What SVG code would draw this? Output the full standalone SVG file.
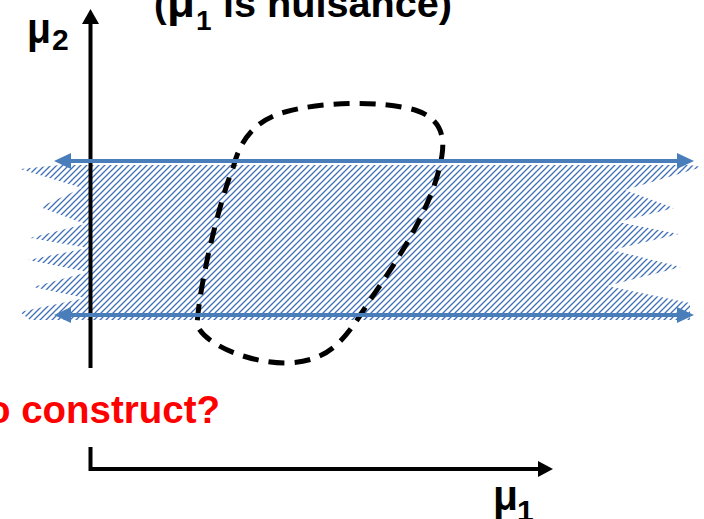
<svg xmlns="http://www.w3.org/2000/svg" width="704" height="519" viewBox="0 0 704 519">
  <style>
    .lbl { font-family: "Liberation Sans", Arial, sans-serif; font-weight: bold; fill: #000; }
    .red { font-family: "Liberation Sans", Arial, sans-serif; font-weight: bold; fill: #ff0000; }
    .axis { stroke: #000; stroke-width: 4; fill: none; }
    .blue { stroke: #4a7ebb; stroke-width: 4; fill: none; }
    .bhead { fill: #4a7ebb; }
    .dash { stroke: #000; stroke-width: 5; fill: none; stroke-dasharray: 16 10; }
  </style>
  <defs>
    <pattern id="hatch" patternUnits="userSpaceOnUse" width="6" height="6">
      <path d="M-1,1 l2,-2 M0,6 l6,-6 M5,7 l2,-2" stroke="#3f70b8" stroke-width="1.3"/>
    </pattern>
  </defs>

  <g id="band">
    <polygon fill="url(#hatch)" points="60,165 690,165 702,167 625,190 674,208 618,222 679,234 612,250 681,267 607,286 690,303 690,320 30,320 20,312 85,298 33,287 88,272 28,260 88,248 30,238 85,224 40,207 82,188 20,169"/>
  </g>

  <g id="axes">
    <line class="axis" x1="90.5" y1="22" x2="90.5" y2="368"/>
    <polygon points="90.5,9 82,24 99,24" fill="#000"/>
    <polyline class="axis" points="90.5,447 90.5,469 540,469"/>
    <polygon points="553,469 538,461 538,477" fill="#000"/>
  </g>

  <g id="region">
    <path class="dash" d="M233,168 C240,140 255,120 285,112 C320,102 380,100 415,110 C440,118 445,135 442,155 C435,200 405,250 370,300 C345,340 330,362 285,363 C250,363 205,345 197,325 C200,280 220,200 233,168 Z"/>
  </g>

  <g id="connectors">
    <line class="blue" x1="70" y1="161" x2="678" y2="161"/>
    <polygon class="bhead" points="54,161 71,153 71,169"/>
    <polygon class="bhead" points="694,161 677,153 677,169"/>
    <line class="blue" x1="70" y1="315" x2="678" y2="315"/>
    <polygon class="bhead" points="54,315 71,307 71,323"/>
    <polygon class="bhead" points="694,315 677,307 677,323"/>
  </g>

  <g id="title">
    <text class="lbl" x="154" y="17" font-size="38">(</text>
    <text class="lbl" x="167" y="17" font-size="42" textLength="28" lengthAdjust="spacingAndGlyphs">μ</text>
    <text class="lbl" x="196" y="30" font-size="28">1</text>
    <text class="lbl" x="223" y="17" font-size="38" textLength="229" lengthAdjust="spacingAndGlyphs">is nuisance)</text>
  </g>

  <g id="label-mu2">
    <text class="lbl" x="27" y="43" font-size="42" textLength="24" lengthAdjust="spacingAndGlyphs">μ</text>
    <text class="lbl" x="52" y="50" font-size="30">2</text>
  </g>

  <g id="label-mu1">
    <text class="lbl" x="493" y="510" font-size="42" textLength="25" lengthAdjust="spacingAndGlyphs">μ</text>
    <text class="lbl" x="517" y="521" font-size="30">1</text>
  </g>

  <g id="question">
    <text class="red" x="-13" y="423" font-size="39" textLength="233" lengthAdjust="spacingAndGlyphs">o construct?</text>
  </g>
</svg>
